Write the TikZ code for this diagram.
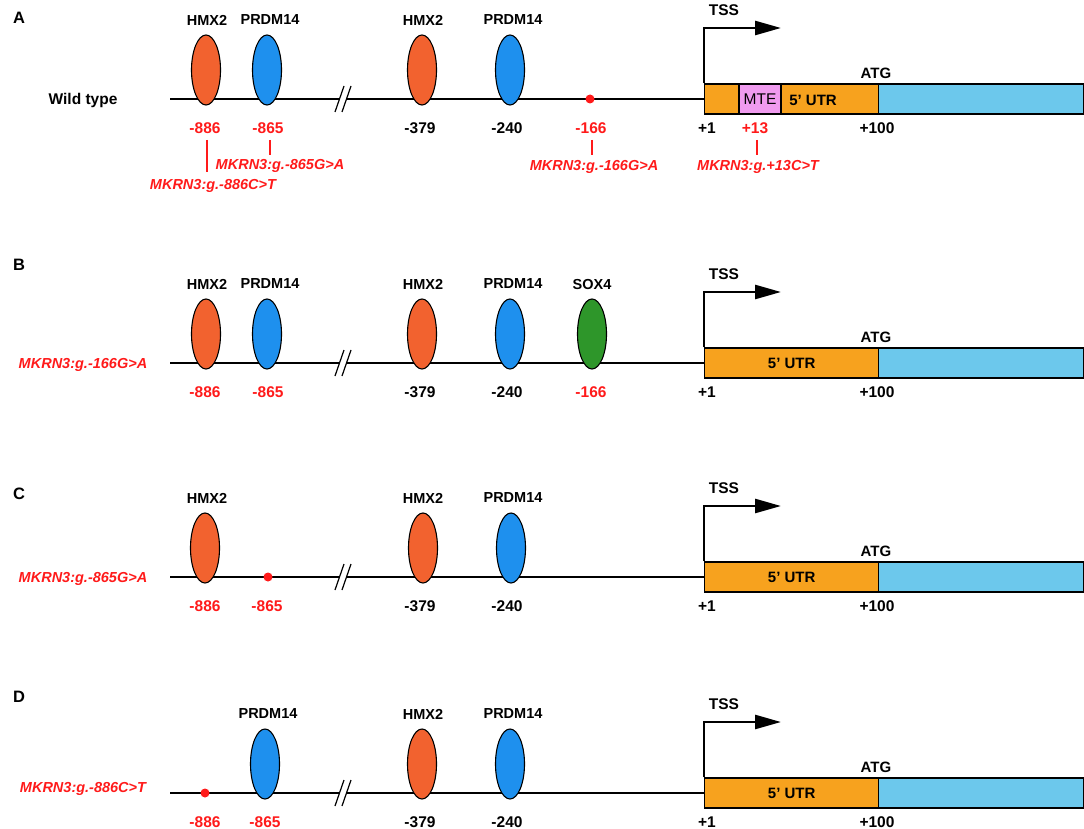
\documentclass[tikz,border=0pt]{standalone}
\usepackage{fontspec}
\setmainfont{Liberation Sans}
\usetikzlibrary{shapes.geometric,arrows.meta,calc}
\definecolor{tforange}{HTML}{F2622F}
\definecolor{tfblue}{HTML}{1E90EE}
\definecolor{tfgreen}{HTML}{2E962A}
\definecolor{utr}{HTML}{F7A21E}
\definecolor{cds}{HTML}{6CC8EC}
\definecolor{mte}{HTML}{F09BEF}
\definecolor{mutred}{HTML}{FF1A1A}
\tikzset{
  tf/.style={ellipse, draw=black, line width=1.1pt, minimum width=29pt, minimum height=70pt, inner sep=0pt},
  tforg/.style={tf, fill=tforange},
  tfblu/.style={tf, fill=tfblue},
  tfgrn/.style={tf, fill=tfgreen},
  txt/.style={inner sep=0pt, text depth=0pt},
  lbl/.style={txt, font=\fontsize{14.5}{16}\selectfont\bfseries},
  num/.style={txt, font=\fontsize{15.5}{17}\selectfont\bfseries},
  rnum/.style={num, text=mutred},
  mut/.style={txt, font=\fontsize{14.5}{16}\selectfont\bfseries\itshape, text=mutred},
  plabel/.style={txt, font=\fontsize{16.5}{18}\selectfont\bfseries},
  dnaline/.style={draw=black, line width=1.4pt},
  brk/.style={draw=black, line width=1.2pt},
  tssarrow/.style={draw=black, line width=2.6pt, -{Triangle[length=26pt,width=14pt]}},
  utrbox/.style={draw=black, line width=1.4pt, fill=utr, minimum width=174pt, minimum height=30pt, inner sep=0pt, anchor=west},
  cdsbox/.style={draw=black, line width=1.4pt, fill=cds, minimum width=205pt, minimum height=30pt, inner sep=0pt, anchor=west},
  mtebox/.style={draw=black, line width=1.2pt, fill=mte, minimum width=42pt, minimum height=30pt, inner sep=0pt, font=\fontsize{15.5}{17}\selectfont},
  dot/.style={circle, fill=mutred, inner sep=0pt, minimum size=9pt},
  mutline/.style={draw=mutred, line width=1.3pt}
}
% #1 prefix, #2 line y
\newcommand\genebody[2]{%
  \coordinate (#1s) at (170,#2);
  \coordinate (#1b1) at (339,#2);
  \coordinate (#1b2) at (347,#2);
  \coordinate (#1tss) at (704,#2);
  \draw[dnaline] (#1s) -- (#1b1);
  \draw[dnaline] (#1b2) -- (#1tss);
  \draw[brk] ($(#1b1)+(-4,13)$) -- ($(#1b1)+(5,-13)$);
  \draw[brk] ($(#1b2)+(-5,13)$) -- ($(#1b2)+(4,-13)$);
  \node[cdsbox] (#1cds) at (878,#2) {};
  \coordinate (#1turn) at (704,{#2-71});
  \coordinate (#1tip) at (781,{#2-71});
  \node[lbl, font=\fontsize{15.5}{17}\selectfont\bfseries] (#1tsslbl) at (724,{#2-89}) {TSS};
  \node[lbl, font=\fontsize{15}{17}\selectfont\bfseries] (#1atg) at (876,{#2-26}) {ATG};
  \node[num] (#1p1) at (707,{#2+29}) {+1};
  \node[num] (#1p100) at (877,{#2+29}) {+100};
}
\newcommand\tssdraw[1]{\draw[tssarrow] (#1utr.north west) -- (#1turn) -- (#1tip);}
\begin{document}
\begin{tikzpicture}[x=1pt,y=-1pt]
\useasboundingbox (0,0) rectangle (1084,829);
% ================= Panel A
\node[plabel] (Alab) at (19,18) {A};
\node[txt, font=\fontsize{15.5}{17}\selectfont\bfseries] (Awt) at (83,99) {Wild type};
\genebody{A}{99}
\node[utrbox] (Autr) at (704,99) {};
\node[mtebox] (Amte) at (760,99) {MTE};
\node[lbl, font=\fontsize{15}{17}\selectfont\bfseries] (Autrtxt) at (813,100) {5’ UTR};
\tssdraw{A}
\node[tforg] (Ae1) at (206,70) {};
\node[tfblu] (Ae2) at (267,70) {};
\node[tforg] (Ae3) at (422,70) {};
\node[tfblu] (Ae4) at (510,70) {};
\node[lbl] (Al1) at (207,20) {HMX2};
\node[lbl] (Al2) at (270,20) {PRDM14};
\node[lbl] (Al3) at (423,20) {HMX2};
\node[lbl] (Al4) at (513,20) {PRDM14};
\node[dot] (Adot) at (590,99) {};
\node[rnum] (An886) at (205,128) {-886};
\node[rnum] (An865) at (268,128) {-865};
\node[num] (An379) at (420,128) {-379};
\node[num] (An240) at (507,128) {-240};
\node[rnum] (An166) at (591,128) {-166};
\node[rnum] (An13) at (755,128) {+13};
\node[mut] (Am886) at (213,184) {MKRN3:g.-886C>T};
\node[mut] (Am865) at (280,164) {MKRN3:g.-865G>A};
\node[mut] (Am166) at (594,165) {MKRN3:g.-166G>A};
\node[mut] (Am13) at (758,165) {MKRN3:g.+13C>T};
\coordinate (At1a) at (207,140); \coordinate (At1b) at (207,172);
\coordinate (At2a) at (270,140); \coordinate (At2b) at (270,155);
\coordinate (At3a) at (592,140); \coordinate (At3b) at (592,155);
\coordinate (At4a) at (757,140); \coordinate (At4b) at (757,155);
\draw[mutline] (At1a) -- (At1b);
\draw[mutline] (At2a) -- (At2b);
\draw[mutline] (At3a) -- (At3b);
\draw[mutline] (At4a) -- (At4b);
% ================= Panel B
\node[plabel] (Blab) at (19,265) {B};
\node[mut] (Bmut) at (83,363) {MKRN3:g.-166G>A};
\genebody{B}{363}
\node[utrbox, font=\fontsize{15}{17}\selectfont\bfseries] (Butr) at (704,363) {5’ UTR};
\tssdraw{B}
\node[tforg] (Be1) at (206,334) {};
\node[tfblu] (Be2) at (267,334) {};
\node[tforg] (Be3) at (422,334) {};
\node[tfblu] (Be4) at (510,334) {};
\node[tfgrn] (Be5) at (592,334) {};
\node[lbl] (Bl1) at (207,284) {HMX2};
\node[lbl] (Bl2) at (270,284) {PRDM14};
\node[lbl] (Bl3) at (423,284) {HMX2};
\node[lbl] (Bl4) at (513,284) {PRDM14};
\node[lbl] (Bl5) at (592,284) {SOX4};
\node[rnum] (Bn886) at (205,392) {-886};
\node[rnum] (Bn865) at (268,392) {-865};
\node[num] (Bn379) at (420,392) {-379};
\node[num] (Bn240) at (507,392) {-240};
\node[rnum] (Bn166) at (591,392) {-166};
% ================= Panel C
\node[plabel] (Clab) at (19,494) {C};
\node[mut] (Cmut) at (83,577) {MKRN3:g.-865G>A};
\genebody{C}{577}
\node[utrbox, font=\fontsize{15}{17}\selectfont\bfseries] (Cutr) at (704,577) {5’ UTR};
\tssdraw{C}
\node[tforg] (Ce1) at (205,548) {};
\node[tforg] (Ce3) at (423,548) {};
\node[tfblu] (Ce4) at (511,548) {};
\node[dot] (Cdot) at (268,577) {};
\node[lbl] (Cl1) at (207,498) {HMX2};
\node[lbl] (Cl3) at (423,498) {HMX2};
\node[lbl] (Cl4) at (513,498) {PRDM14};
\node[rnum] (Cn886) at (205,606) {-886};
\node[rnum] (Cn865) at (267,606) {-865};
\node[num] (Cn379) at (420,606) {-379};
\node[num] (Cn240) at (507,606) {-240};
% ================= Panel D
\node[plabel] (Dlab) at (19,697) {D};
\node[mut] (Dmut) at (83,787) {MKRN3:g.-886C>T};
\genebody{D}{793}
\node[utrbox, font=\fontsize{15}{17}\selectfont\bfseries] (Dutr) at (704,793) {5’ UTR};
\tssdraw{D}
\node[tfblu] (De2) at (265,764) {};
\node[tforg] (De3) at (422,764) {};
\node[tfblu] (De4) at (510,764) {};
\node[dot] (Ddot) at (205,793) {};
\node[lbl] (Dl2) at (268,714) {PRDM14};
\node[lbl] (Dl3) at (423,714) {HMX2};
\node[lbl] (Dl4) at (513,714) {PRDM14};
\node[rnum] (Dn886) at (205,822) {-886};
\node[rnum] (Dn865) at (265,822) {-865};
\node[num] (Dn379) at (420,822) {-379};
\node[num] (Dn240) at (507,822) {-240};
\end{tikzpicture}
\end{document}
